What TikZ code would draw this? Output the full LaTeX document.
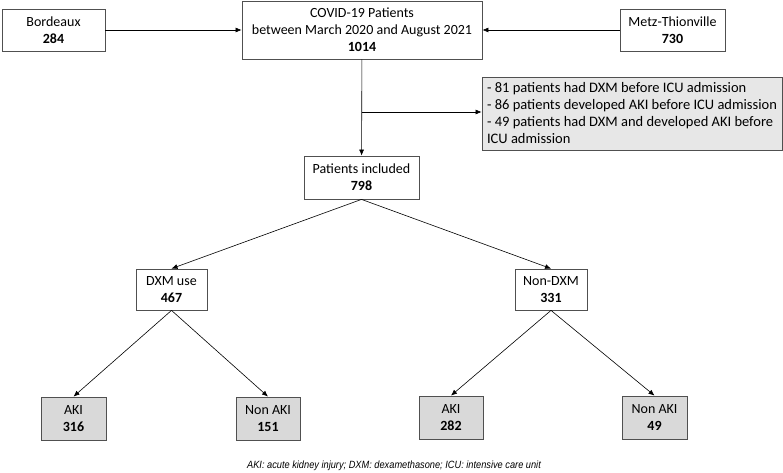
\documentclass[tikz,border=0pt]{standalone}
\usepackage{fontspec}
\setmainfont{Carlito}
\newfontfamily\capfont[FakeStretch=0.88]{Liberation Sans}
\usetikzlibrary{arrows.meta}
\definecolor{boxgray}{RGB}{217,217,217}
\definecolor{notegray}{RGB}{231,231,231}
\definecolor{edgegray}{RGB}{80,80,80}
\tikzset{
  box/.style={draw=edgegray, line width=0.8pt, align=center, inner sep=2pt,
    font=\fontsize{14}{17}\selectfont},
  outbox/.style={box, fill=boxgray},
  arr/.style={-{Latex[length=6pt,width=5pt]}, line width=0.6pt}
}
\begin{document}
\begin{tikzpicture}[x=1pt, y=-1pt]
        \useasboundingbox (0,0) rectangle (783,473);
        % Draw the sources
        \node[box, minimum width=103pt, minimum height=42pt] (bdx) at (53.5,30) {Bordeaux\\\textbf{284}};
        \node[box, minimum width=240pt, minimum height=58pt] (covid) at (362,30) {COVID-19 Patients\\between March 2020 and August 2021\\\textbf{1014}};
        \node[box, minimum width=105pt, minimum height=42pt] (metz) at (672.5,30) {Metz-Thionville\\\textbf{730}};
        % Draw the exclusions
        \node[box, fill=notegray, minimum width=300pt, minimum height=73pt, align=left,
          font=\fontsize{14.5}{17}\selectfont] (excl) at (632,113.5) {- 81 patients had DXM before ICU admission\\- 86 patients developed AKI before ICU admission\\- 49 patients had DXM and developed AKI before\\ICU admission};
        % Draw the groups
        \node[box, minimum width=115pt, minimum height=43pt] (incl) at (361.5,177.5) {Patients included\\\textbf{798}};
        \node[box, minimum width=71pt, minimum height=41pt] (dxm) at (171.5,289.5) {DXM use\\\textbf{467}};
        \node[box, minimum width=72pt, minimum height=41pt] (nondxm) at (551,289.5) {Non-DXM\\\textbf{331}};
        \node[outbox, minimum width=65pt, minimum height=43pt] (akiA) at (73.5,418.5) {AKI\\\textbf{316}};
        \node[outbox, minimum width=64pt, minimum height=43pt] (nonakiA) at (268,418.5) {Non AKI\\\textbf{151}};
        \node[outbox, minimum width=64pt, minimum height=43pt] (akiB) at (451,417.5) {AKI\\\textbf{282}};
        \node[outbox, minimum width=65pt, minimum height=43pt] (nonakiB) at (654.5,417.5) {Non AKI\\\textbf{49}};
        % Draw the arrows
        \draw[arr] (bdx) -- (covid);
        \draw[arr] (metz) -- (covid);
        \draw[arr] (covid) -- (incl);
        \coordinate (split) at (362,112);
        \draw[arr] (split) -- (split -| excl.west);
        \draw[arr] (incl.south) -- (dxm.north);
        \draw[arr] (incl.south) -- (nondxm.north);
        \draw[arr] (dxm.south) -- (akiA.north);
        \draw[arr] (dxm.south) -- (nonakiA.north);
        \draw[arr] (nondxm.south) -- (akiB.north);
        \draw[arr] (nondxm.south) -- (nonakiB.north);
        % Abbreviations
        \node[font=\capfont\itshape\fontsize{10.5}{12}\selectfont] (abbr) at (394,466) {AKI: acute kidney injury; DXM: dexamethasone; ICU: intensive care unit};
    \end{tikzpicture}
\end{document}
